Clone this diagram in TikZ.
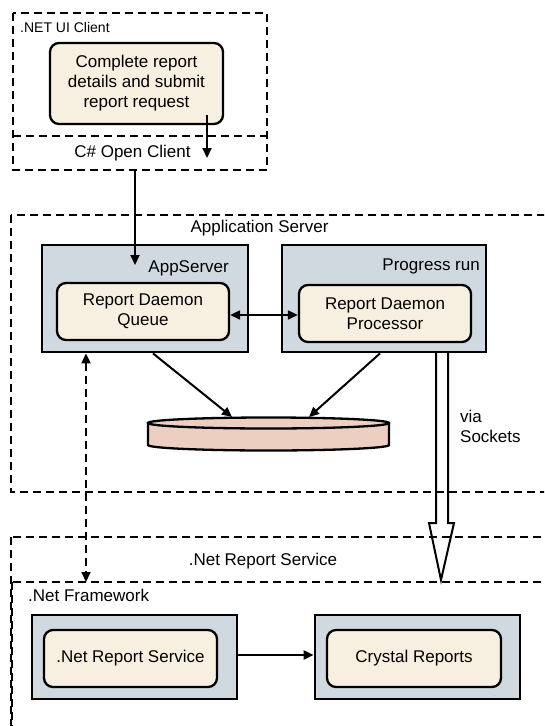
\documentclass[tikz,border=0pt]{standalone}
\usepackage{fontspec}
\setmainfont{Liberation Sans}
\usetikzlibrary{arrows.meta}
\definecolor{hostgray}{HTML}{D1D9E0}
\definecolor{taskcream}{HTML}{F7EFE0}
\definecolor{dbpink}{HTML}{EDCFC2}
\tikzset{
  zone/.style={draw, line width=2.2pt, dash pattern=on 8pt off 5pt},
  host/.style={draw, line width=2.8pt, fill=hostgray, inner sep=0pt},
  task/.style={draw, line width=2.3pt, rounded corners=9pt, fill=taskcream, align=center, inner sep=0pt},
  arr/.style={line width=2pt, -{Triangle[length=10pt,width=9pt]}},
  darr/.style={line width=2pt, {Triangle[length=10pt,width=9pt]}-{Triangle[length=10pt,width=9pt]}},
}
\begin{document}
\begin{tikzpicture}[x=1pt,y=-1pt,font=\fontsize{17}{20}\selectfont]
  \useasboundingbox (0,0) rectangle (544,726);
  \clip (0,0) rectangle (544,726);
  % .NET UI Client
  \draw[zone] (13,13) rectangle (267,170);
  \draw[zone] (13,136) -- (267,136);
  \node[anchor=west, inner sep=0pt, font=\fontsize{14}{16}\selectfont] (uilbl) at (20,27) {.NET UI Client};
  \node[task, minimum width=173, minimum height=81] (req) at (136.5,83.5) {Complete report\\details and submit\\report request};
  \node (oclient) at (132.5,153) {C\# Open Client};
  \coordinate (reqout) at (207,115);
  \coordinate (ocin) at (207,158);
  \draw[arr] (reqout) -- (ocin);
  % Application Server
  \draw[zone] (11,215) rectangle (560,492);
  \node (applbl) at (259.5,228) {Application Server};
  \node[host, minimum width=206, minimum height=107] (appsrv) at (145,298.5) {};
  \node[anchor=east, inner sep=0pt] (appname) at (229,268) {AppServer};
  \node[host, minimum width=204, minimum height=107] (prun) at (384,298.5) {};
  \node[anchor=east, inner sep=0pt] (prunname) at (480,266) {Progress run};
  \node[task, minimum width=172, minimum height=57] (queue) at (143,311.5) {Report Daemon\\Queue};
  \node[task, minimum width=172, minimum height=57] (proc) at (385,313.5) {Report Daemon\\Processor};
  \draw[darr] (queue.east |- 0,315) -- (proc.west |- 0,315);
  \coordinate (uiout) at (135,170);
  \coordinate (appin) at (135,265);
  \draw[arr] (uiout) -- (appin);
  % database
  \fill[dbpink] (148,423) -- (148,445) arc[start angle=180, end angle=360, x radius=120.5pt, y radius=5.5pt] -- (389,423) -- cycle;
  \draw[line width=2.3pt] (148,423) -- (148,445) arc[start angle=180, end angle=360, x radius=120.5pt, y radius=5.5pt] -- (389,423);
  \draw[line width=2.3pt, fill=dbpink] (268.5,423) ellipse[x radius=120.5pt, y radius=5.5pt];
  \coordinate (dbl) at (232,417);
  \coordinate (dbr) at (309,417);
  \draw[arr] (appsrv.south -| 153,0) -- (dbl);
  \draw[arr] (prun.south -| 380,0) -- (dbr);
  % via sockets
  \draw[line width=2pt, line join=miter] (436,352) -- (436,523) -- (429,523) -- (441,580) -- (454,523) -- (448,523) -- (448,352);
  \node[anchor=west, align=left, inner sep=0pt] (sock) at (460,426) {via\\Sockets};
  % .Net Report Service
  \draw[zone] (11,537) rectangle (560,760);
  \node (nrslbl) at (263,561) {.Net Report Service};
  \draw[zone] (12,582) rectangle (560,760);
  \node[anchor=west, inner sep=0pt] (fwlbl) at (28,595) {.Net Framework};
  \node[host, minimum width=205, minimum height=84] (nrshost) at (134.5,657) {};
  \node[host, minimum width=205, minimum height=84] (crhost) at (417.5,657) {};
  \node[task, minimum width=173, minimum height=57] (nrs) at (130.5,658.5) {.Net Report Service};
  \node[task, minimum width=174, minimum height=57] (crys) at (414,658.5) {Crystal Reports};
  \draw[arr] (nrshost.east |- 0,655) -- (crhost.west |- 0,655);
  \coordinate (fwtop) at (86,582);
  \draw[darr, dash pattern=on 8pt off 5pt] (appsrv.south -| 86,0) -- (fwtop);
\end{tikzpicture}
\end{document}
